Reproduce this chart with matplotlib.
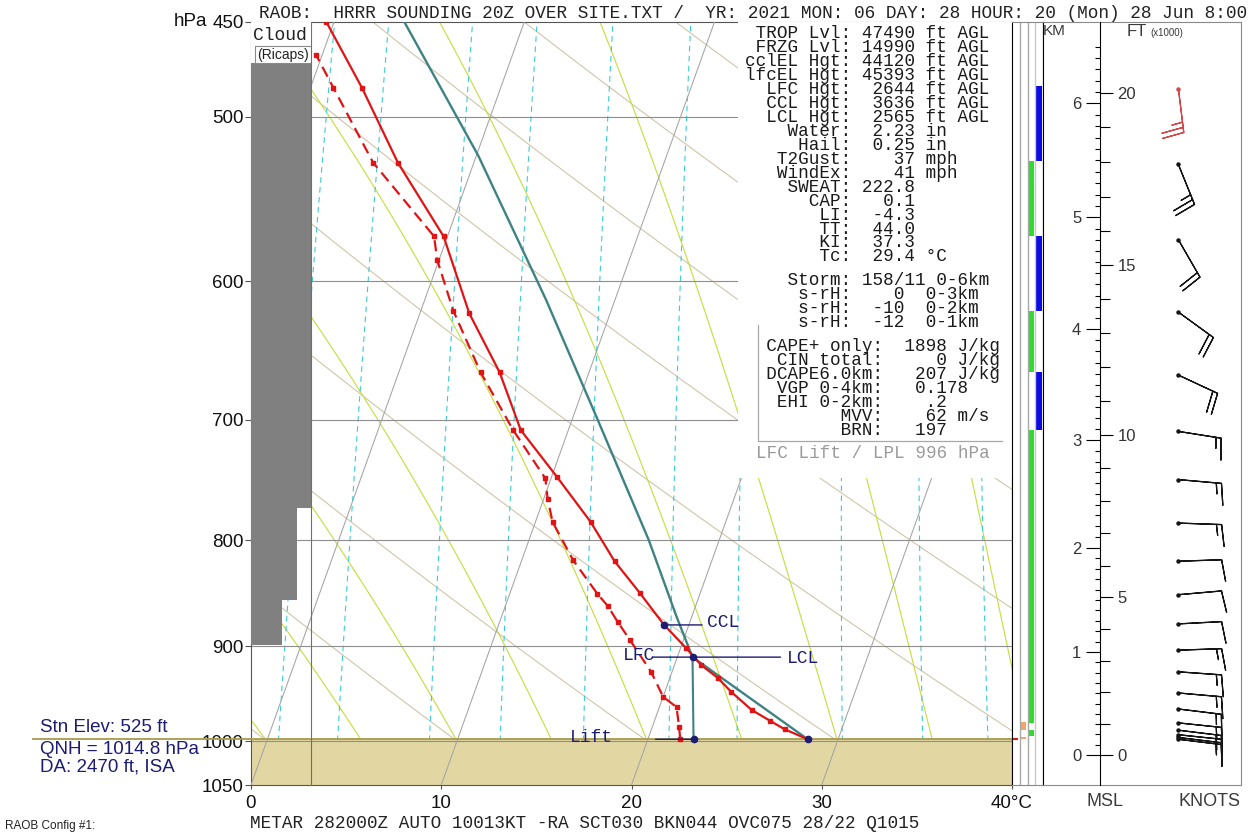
import numpy as np
import matplotlib
matplotlib.use("Agg")
import matplotlib.pyplot as plt
from matplotlib.patches import Rectangle
from matplotlib.lines import Line2D
from matplotlib.ticker import FixedLocator, FixedFormatter, NullLocator, NullFormatter

plt.rcParams['font.family'] = ['Liberation Sans', 'DejaVu Sans']

W, H = 1255, 833
P_BOT, P_TOP = 1050, 450
SKEW = 16.95          # degC of x shift per unit of ln(p)
MONO = 'Liberation Mono'
NAVY = '#1c1c72'

# ---- sounding (hPa, degC) ----
temp_p = [998, 987, 978, 966, 947, 932, 919, 902, 879, 848, 819, 784, 746, 708, 664, 622, 571, 526, 484, 450]
temp_c = [28.4, 27.0, 26.1, 24.9, 23.5, 22.5, 21.4, 20.3, 18.7, 16.8, 14.9, 12.9, 10.3, 7.5, 5.3, 2.6, -0.2, -4.0, -7.3, -10.4]
dewp_p = [998, 984, 963, 952, 926, 894, 876, 861, 849, 818, 784, 764, 747, 708, 664, 620, 586, 571, 526, 484, 467]
dewp_c = [21.7, 21.4, 20.9, 20.0, 18.9, 17.2, 16.2, 15.4, 14.6, 12.7, 10.9, 10.2, 9.7, 7.1, 4.3, 1.7, -0.1, -0.7, -5.3, -8.8, -10.3]
parcel_p = [998, 911, 871, 800, 699, 613, 522, 450]
parcel_c = [28.4, 20.8, 19.2, 16.3, 11.3, 6.4, 0.1, -6.3]
sfc_p, sfc_c = 998, 28.4
lift_c = 22.4
lcl_p, lcl_c = 911, 20.8
ccl_p, ccl_c = 879, 18.7
ground_p = 998

# winds
barb_p = [485, 527, 573, 621, 666, 709, 748, 785, 819, 850, 878, 904, 926, 948, 965, 980, 988, 993, 996, 998]
barb_dir = [173, 158, 150, 126, 115, 99, 95, 92, 88, 85, 87, 88, 94, 95, 97, 96, 97, 96, 97, 97]
barb_kt = [25, 25, 20, 20, 20, 15, 15, 15, 10, 10, 10, 15, 15, 15, 15, 15, 15, 15, 15, 15]

# cloud column (Ricaps), percent cover per layer
cloud_top = [450, 772, 855]
cloud_bot = [772, 855, 899]
cloud_pct = [100, 77, 52]

# side strips (hPa bands)
blue_bands = [(483, 525), (571, 620), (664, 708)]
green_bands = [(525, 571), (620, 664), (708, 980), (988, 994)]
orange_bands = [(979, 988), (996, 998)]

# height scale
km_h = [0, 1, 2, 3, 4, 5, 6]
km_p = [1015.6, 906, 806.8, 716, 633, 559, 492.6]
ft_major = [0, 5, 10, 15, 20]

# reference lines
isotherms = [-10, 0, 10, 20, 30, 40]
dry_theta = [0, 10, 20, 30, 40, 50, 60, 70, 80, 90, 100, 110]
moist_t0 = [0, 5, 10, 15, 20, 25, 30, 35, 40, 45]
mix_ratio = [4, 5, 7, 9, 12, 16, 20, 28, 36, 44]
p_ticks = [450, 500, 600, 700, 800, 900, 1000, 1050]
p_grid = [500, 600, 700, 800, 900, 1000]

# text
header = "RAOB:  HRRR SOUNDING 20Z OVER SITE.TXT /  YR: 2021 MON: 06 DAY: 28 HOUR: 20 (Mon) 28 Jun 8:00"
metar = "METAR 282000Z AUTO 10013KT -RA SCT030 BKN044 OVC075 28/22 Q1015"
stat_labels = ['TROP Lvl:', 'FRZG Lvl:', 'cclEL Hgt:', 'lfcEL Hgt:', 'LFC Hgt:', 'CCL Hgt:', 'LCL Hgt:',
               'Water:', 'Hail:', 'T2Gust:', 'WindEx:', 'SWEAT:', 'CAP:', 'LI:', 'TT:', 'KI:', 'Tc:']
stat_values = ['47490', '14990', '44120', '45393', '2644', '3636', '2565',
               '2.23', '0.25', '37', '41', '222.8', '0.1', '-4.3', '44.0', '37.3', '29.4']
stat_units = ['ft AGL'] * 7 + ['in', 'in', 'mph', 'mph', '', '', '', '', '', '°C']
storm = '158/11'
storm_layer = '0-6km'
srh_values = ['0', '-10', '-12']
srh_layers = ['0-3km', '0-2km', '0-1km']
cape_labels = ['CAPE+ only:', 'CIN total:', 'DCAPE6.0km:', 'VGP 0-4km:', 'EHI 0-2km:', 'MVV:', 'BRN:']
cape_values = ['1898', '0', '207', '0.178', '.2', '62', '197']
cape_units = ['J/kg', 'J/kg', 'J/kg', '', '', 'm/s', '']
lift_note = 'LFC Lift / LPL 996 hPa'


def sx(t, p):
    return np.asarray(t, float) + SKEW * np.log(P_BOT / np.asarray(p, float))


def moist_adiabat(t0, p):
    Rd, Cp, Lv, eps = 287.04, 1005.7, 2.501e6, 0.622

    def f(T, pp):
        es = 6.112 * np.exp(17.67 * (T - 273.15) / (T - 29.65))
        rs = eps * es / (pp - es)
        return (Rd * T + Lv * rs) / (pp * (Cp + Lv * Lv * rs * eps / (Rd * T * T)))

    T = t0 + 273.15
    out = [T]
    for i in range(1, len(p)):
        dp = p[i] - p[i - 1]
        k1 = f(T, p[i - 1])
        k2 = f(T + dp * k1, p[i])
        T = T + dp * (k1 + k2) / 2
        out.append(T)
    return np.array(out) - 273.15


def km_to_p(h):
    h = np.atleast_1d(np.asarray(h, float))
    lp = np.log(km_p)
    out = np.interp(h, km_h, lp)
    slope = (lp[-1] - lp[-2]) / (km_h[-1] - km_h[-2])
    hi = h > km_h[-1]
    out[hi] = lp[-1] + slope * (h[hi] - km_h[-1])
    return np.exp(out)


def fx(px):
    return px / W


def fy(py):
    return 1 - py / H


def pressure_axes(rect):
    a = fig.add_axes(rect)
    a.set_yscale('log')
    a.set_ylim(P_BOT, P_TOP)
    a.yaxis.set_minor_locator(NullLocator())
    a.yaxis.set_minor_formatter(NullFormatter())
    return a


fig = plt.figure(figsize=(W / 100, H / 100), dpi=100)
b, h = fy(785), 763 / H

# ---------------- main skew-T axes ----------------
ax = pressure_axes([fx(251), b, 761 / W, h])
ax.set_xlim(0, 40)
ax.yaxis.set_major_locator(FixedLocator(p_ticks))
ax.yaxis.set_major_formatter(FixedFormatter([str(p) for p in p_ticks]))
ax.set_xticks([0, 10, 20, 30, 40])
ax.set_xticklabels(['0', '10', '20', '30', '40°C'])
ax.tick_params(axis='y', length=4.3, pad=1.0, labelsize=13.5, color='#555555', labelcolor='#111111')
ax.tick_params(axis='x', length=3, pad=4, labelsize=13.5, color='#555555', labelcolor='#111111')
for s in ax.spines.values():
    s.set_color('#555555')
ax.spines['right'].set_color('black')

pl = np.linspace(1000, 450, 111)
for t in isotherms:
    pp = np.array([P_BOT, P_TOP])
    ax.plot(sx([t, t], pp), pp, color='#a4a4a4', lw=0.75, zorder=2.6)
for th in dry_theta:
    tt = (th + 273.15) * (pl / 1000.0) ** 0.2857 - 273.15
    ax.plot(sx(tt, pl), pl, color='#cdc2a4', lw=0.75, zorder=1)
for t0 in moist_t0:
    ax.plot(sx(moist_adiabat(t0, pl), pl), pl, color='#c6dc3a', lw=0.8, zorder=1.1)
for w in mix_ratio:
    e = w * pl / (622.0 + w)
    a = np.log(e / 6.112)
    td = 243.5 * a / (17.67 - a)
    ax.plot(sx(td, pl), pl, color='#3ccbd6', lw=0.8, ls=(0, (5, 4)), zorder=1.2)

for p in p_grid:
    ax.axhline(p, color='#8e8e8e', lw=0.8, zorder=2.5)

ax.axhspan(ground_p, P_BOT, color='#e2d7a3', lw=0, zorder=2)
ax.axhline(ground_p, xmin=-(251 - 33) / 761, xmax=1, color='#a69b4c', lw=1.3, clip_on=False, zorder=2.7)

# white stats box
ax.add_patch(Rectangle((0.64, (785 - 478) / 763), 0.36, 1 - (785 - 478) / 763,
                       transform=ax.transAxes, fc='white', ec='none', zorder=3))

# profiles
ax.plot(sx(parcel_c, parcel_p), parcel_p, color='#3d8383', lw=1.7, zorder=5)
ax.plot(sx([lift_c, lcl_c], [sfc_p, lcl_p]), [sfc_p, lcl_p], color='#3d8383', lw=1.5, zorder=5)
ax.plot(sx(temp_c, temp_p), temp_p, color='#e01414', lw=1.6, marker='s', ms=3, zorder=6)
ax.plot(sx(dewp_c, dewp_p), dewp_p, color='#e01414', lw=1.6, ls=(0, (5, 2.8)), marker='s', ms=3, zorder=6)
ax.plot(sx([sfc_c, lift_c, lcl_c, ccl_c], [sfc_p, sfc_p, lcl_p, ccl_p]), [sfc_p, sfc_p, lcl_p, ccl_p],
        'o', color=NAVY, ms=4.5, zorder=7)

# level labels: (text, T, p, leader start offset px, text dx, text dy, ha)
marks = [('CCL', ccl_c, ccl_p, 38, 43, 2, 'left'),
         ('LCL', lcl_c, lcl_p, 88, 94, -1, 'left'),
         ('LFC', lcl_c, lcl_p, -40, -37, 2, 'right'),
         ('Lift', lift_c, sfc_p, -38, -81, 2, 'right')]
for txt, t, p, lead, tdx, tdy, ha in marks:
    xy = (float(sx(t, p)), p)
    ax.annotate('', xy=xy, xytext=(lead, 0), textcoords='offset pixels',
                arrowprops=dict(arrowstyle='-', color=NAVY, lw=1, shrinkA=0, shrinkB=0), zorder=7)
    ax.annotate(txt, xy=xy, xytext=(tdx, tdy), textcoords='offset pixels', ha=ha, va='center',
                fontfamily=MONO, fontsize=13, color=NAVY, zorder=7)

# ---------------- cloud column ----------------
axc = pressure_axes([fx(251), b, 60 / W, h])
axc.patch.set_alpha(0)
axc.set_xlim(0, 100)
axc.set_xticks([])
axc.set_yticks([])
for k in ['left', 'top', 'bottom']:
    axc.spines[k].set_visible(False)
axc.spines['right'].set_color('#6f6f6f')
for top, bot, pct in zip(cloud_top, cloud_bot, cloud_pct):
    axc.fill_betweenx([top, bot], 0, pct, color='#808080', lw=0)
axc.add_patch(Rectangle((0, (785 - 63) / 763), 1, 1 - (785 - 63) / 763, transform=axc.transAxes,
                        fc='white', ec='none', zorder=4))
axc.add_patch(Rectangle((0.06, (785 - 63) / 763), 0.94, 17 / 763, transform=axc.transAxes,
                        fc='white', ec='#8a8a8a', lw=0.8, zorder=5))
fig.text(fx(253), fy(35), 'Cloud', fontfamily=MONO, fontsize=13, va='center', ha='left', color='#222222')
fig.text(fx(283), fy(55), '(Ricaps)', fontsize=10, va='center', ha='center', color='#222222')

# ---------------- side strips ----------------
axs = pressure_axes([fx(1012), b, 31 / W, h])
axs.set_xlim(0, 4)
axs.set_xticks([])
axs.set_yticks([])
axs.spines['top'].set_color('#8a8a8a')
axs.spines['bottom'].set_color('#8a8a8a')
for xv, c in [(1, '#a8a8a8'), (2, '#a8a8a8'), (3, '#c8c8c8')]:
    axs.axvline(xv, color=c, lw=1)
for lo, hi in blue_bands:
    axs.bar(3.5, hi - lo, bottom=lo, width=0.85, color='#0a0ae6', lw=0)
for lo, hi in green_bands:
    axs.bar(2.5, hi - lo, bottom=lo, width=0.7, color='#2edc2e', lw=0)
for lo, hi in orange_bands:
    axs.bar(1.5, hi - lo, bottom=lo, width=0.55, color='#f4a468', lw=0)
axs.hlines(sfc_p, 0, 0.75, color='#e01414', lw=1.5)

# ---------------- wind panel ----------------
axr = pressure_axes([fx(1043), b, 198 / W, h])
axr.set_xlim(0, 1)
axr.set_xticks([])
axr.set_yticks([])
for k in ['top', 'right', 'bottom']:
    axr.spines[k].set_color('#8a8a8a')
axr.spines['left'].set_color('black')

wd = np.radians(barb_dir)
u = -np.array(barb_kt) * np.sin(wd)
v = -np.array(barb_kt) * np.cos(wd)
bx = np.full(len(barb_p), (1178.3 - 1043) / 198)
bsz = dict(spacing=0.12, height=0.5, width=0.15)
axr.barbs(bx[:1], barb_p[:1], u[:1], v[:1], length=7.9, color='#d04848', lw=0.9, sizes=bsz)
axr.barbs(bx[1:], barb_p[1:], u[1:], v[1:], length=7.9, color='#151515', lw=0.9, sizes=bsz)
axr.plot(bx[:1], barb_p[:1], 'o', ms=2.2, color='#d04848')
axr.plot(bx[1:], barb_p[1:], 'o', ms=2.2, color='#151515')

# km / kft scale
axk = pressure_axes([fx(1100), b, 0.4 / W, h])
axk.patch.set_alpha(0)
axk.set_xticks([])
for k in ['top', 'right', 'bottom']:
    axk.spines[k].set_visible(False)
axk.spines['left'].set_color('black')
axk.yaxis.set_major_locator(FixedLocator(km_p))
axk.yaxis.set_major_formatter(FixedFormatter([str(k) for k in km_h]))
axk.yaxis.set_minor_locator(FixedLocator(km_to_p(np.arange(0, 6.55, 0.1))))
axk.tick_params(axis='y', which='major', length=10, width=0.8, pad=3.5, labelsize=12, labelcolor='#333333')
axk.tick_params(axis='y', which='minor', length=3.6, width=0.8)

axf = axk.twinx()
axf.set_yscale('log')
axf.set_ylim(P_BOT, P_TOP)
for k in ['top', 'left', 'bottom', 'right']:
    axf.spines[k].set_visible(False)
axf.yaxis.set_major_locator(FixedLocator(km_to_p(np.array(ft_major) * 0.3048)))
axf.yaxis.set_major_formatter(FixedFormatter([str(f) for f in ft_major]))
axf.yaxis.set_minor_locator(FixedLocator(km_to_p(np.arange(0, 21) * 0.3048)))
axf.yaxis.set_minor_formatter(NullFormatter())
axf.tick_params(axis='y', which='major', length=9.4, width=0.8, pad=3, labelsize=12, labelcolor='#333333')
axf.tick_params(axis='y', which='minor', length=7, width=0.8)

# ---------------- text ----------------
fig.text(fx(259), fy(13), header, fontfamily=MONO, fontsize=12.8, va='center', ha='left', color='#222222')
fig.text(fx(250), fy(823), metar, fontfamily=MONO, fontsize=12.7, va='center', ha='left', color='#222222')
fig.text(fx(5), fy(826), 'RAOB Config #1:', fontsize=8.5, va='center', ha='left', color='#222222')
fig.text(fx(207), fy(22), 'hPa', fontsize=13.5, va='center', ha='right', color='#111111')
fig.text(fx(40), fy(728), 'Stn Elev: 525 ft', fontsize=13.5, va='center', ha='left', color=NAVY)
fig.text(fx(40), fy(750), 'QNH = 1014.8 hPa', fontsize=13.5, va='center', ha='left', color=NAVY)
fig.text(fx(40), fy(767), 'DA: 2470 ft, ISA', fontsize=13.5, va='center', ha='left', color=NAVY)
fig.text(fx(1105), fy(802), 'MSL', fontsize=13, va='center', ha='center', color='#3a3a3a')
fig.text(fx(1210), fy(802), 'KNOTS', fontsize=13, va='center', ha='center', color='#3a3a3a')
fig.text(fx(1043), fy(31), 'KM', fontsize=11, va='center', ha='left', color='#3a3a3a')
fig.text(fx(1127), fy(31), 'FT', fontsize=12, va='center', ha='left', color='#3a3a3a')
fig.text(fx(1150), fy(33), '(x1000)', fontsize=7, va='center', ha='left', color='#3a3a3a')

x0 = 745
rows = [f"{l:>10} {v:>5} {u}".rstrip() for l, v, u in zip(stat_labels, stat_values, stat_units)]
for i, r in enumerate(rows):
    fig.text(fx(x0), fy(34 + 13.93 * i), r, fontfamily=MONO, fontsize=12.7, va='center', ha='left', color='#1a1a1a')
rows = [f"{'Storm:':>10} {storm} {storm_layer}"]
rows += [f"{'s-rH:':>10} {v:>4}  {l}" for v, l in zip(srh_values, srh_layers)]
for i, r in enumerate(rows):
    fig.text(fx(x0), fy(280.7 + 13.9 * i), r, fontfamily=MONO, fontsize=12.7, va='center', ha='left', color='#1a1a1a')
rows = []
for l, v, u in zip(cape_labels, cape_values, cape_units):
    vv = v.rjust(6) if len(v) < 5 else v.rjust(8)
    rows.append(f"{l:>13}{vv} {u}".rstrip())
for i, r in enumerate(rows):
    fig.text(fx(x0), fy(346.6 + 13.9 * i), r, fontfamily=MONO, fontsize=12.7, va='center', ha='left', color='#1a1a1a')
fig.text(fx(x0 + 10.6), fy(453), lift_note, fontfamily=MONO, fontsize=12.7, va='center', ha='left', color='#9a9a9a')
fig.add_artist(Line2D([fx(758), fx(758), fx(1002)], [fy(325), fy(441), fy(441)], color='#a8a8a8', lw=0.9))

fig.savefig('out.png', dpi=100)
